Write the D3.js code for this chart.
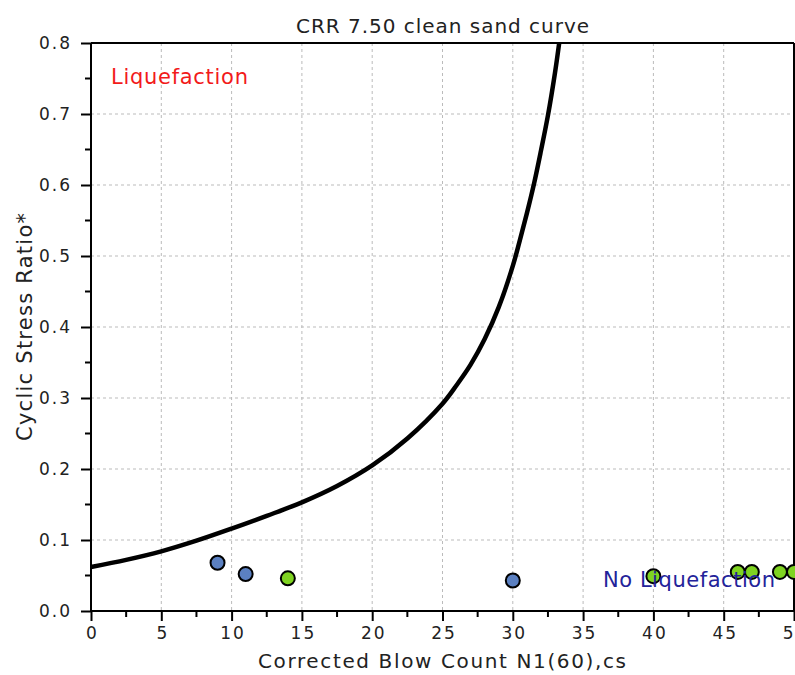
<!DOCTYPE html>
<html><head><meta charset="utf-8">
<script src="https://cdn.jsdelivr.net/npm/d3@7"></script>
<style>body{margin:0;background:#fff}svg{display:block}text{font-family:"DejaVu Sans",Verdana,sans-serif}</style>
</head><body>
<svg id="c" width="795" height="675"></svg>
<script>
// Data
const curveN   = [0, 2.5, 5, 7.5, 10, 12.5, 15, 17.5, 20, 22.5, 25, 26, 27, 28, 29, 30, 30.5, 31, 31.5, 32, 32.5, 33, 33.3];
const curveCRR = [0.062, 0.072, 0.084, 0.099, 0.116, 0.134, 0.153, 0.176, 0.205, 0.243, 0.292, 0.318, 0.347, 0.383, 0.428, 0.486, 0.522, 0.560, 0.601, 0.648, 0.698, 0.758, 0.800];
const blueN   = [9, 11, 30];
const blueCSR = [0.068, 0.052, 0.043];
const greenN   = [14, 40, 46, 47, 49, 50];
const greenCSR = [0.046, 0.049, 0.055, 0.055, 0.055, 0.055];
const xTicks = [0, 5, 10, 15, 20, 25, 30, 35, 40, 45, 50];
const yTicks = [0.0, 0.1, 0.2, 0.3, 0.4, 0.5, 0.6, 0.7, 0.8];
const titleText = "CRR 7.50 clean sand curve";
const xTitle = "Corrected Blow Count N1(60),cs";
const yTitle = "Cyclic Stress Ratio*";

const svg = d3.select("#c");
const L = 91, R = 794, T = 43, B = 611;
const x = d3.scaleLinear().domain([0, 50]).range([L, R]);
const y = d3.scaleLinear().domain([0, 0.8]).range([B, T]);

// grid
const g = svg.append("g");
g.selectAll(".gx").data(xTicks.slice(1, -1)).join("line")
  .attr("x1", d => x(d)).attr("x2", d => x(d)).attr("y1", T).attr("y2", B)
  .attr("stroke", "#bbb").attr("stroke-width", 1).attr("stroke-dasharray", "3,3");
g.selectAll(".gy").data(yTicks.slice(1, -1)).join("line")
  .attr("y1", d => y(d)).attr("y2", d => y(d)).attr("x1", L).attr("x2", R)
  .attr("stroke", "#bbb").attr("stroke-width", 1).attr("stroke-dasharray", "3,3");

// frame top/right
svg.append("line").attr("x1", L).attr("x2", R).attr("y1", T).attr("y2", T).attr("stroke", "#000").attr("stroke-width", 2);
svg.append("line").attr("x1", R).attr("x2", R).attr("y1", T).attr("y2", B).attr("stroke", "#000").attr("stroke-width", 2);

// axes
const xAxis = d3.axisBottom(x).tickValues(xTicks).tickSize(10).tickFormat(d3.format("d"));
const xa = svg.append("g").attr("transform", `translate(0,${B})`).call(xAxis);
const yAxis = d3.axisLeft(y).tickValues(yTicks).tickSize(10).tickFormat(d3.format(".1f"));
const ya = svg.append("g").attr("transform", `translate(${L},0)`).call(yAxis);
[xa, ya].forEach(a => {
  a.select(".domain").attr("stroke", "#000").attr("stroke-width", 2);
  a.selectAll(".tick line").attr("stroke", "#000").attr("stroke-width", 2);
  a.selectAll(".tick text").attr("fill", "#222").style("font-size", "17px").style("letter-spacing", "2px")
    .style("font-family", '"DejaVu Sans",Verdana,sans-serif');
});
xa.select(".domain").attr("d", `M${L},0H${R}`);
ya.select(".domain").attr("d", `M0,${B}V${T}`);
xa.selectAll(".tick text").attr("y", 16).attr("dx", "1px");
ya.selectAll(".tick text").attr("x", -19);

// minor ticks
const xMinor = d3.range(2.5, 50, 5);
svg.append("g").selectAll("line").data(xMinor).join("line")
  .attr("x1", d => x(d)).attr("x2", d => x(d)).attr("y1", B).attr("y2", B + 6)
  .attr("stroke", "#000").attr("stroke-width", 2);
const yMinor = d3.range(0.05, 0.8, 0.1);
svg.append("g").selectAll("line").data(yMinor).join("line")
  .attr("y1", d => y(d)).attr("y2", d => y(d)).attr("x1", L - 6).attr("x2", L)
  .attr("stroke", "#000").attr("stroke-width", 2);

// curve
const pts = curveN.map((n, i) => [n, curveCRR[i]]);
svg.append("path").datum(pts)
  .attr("d", d3.line().x(d => x(d[0])).y(d => y(d[1])).curve(d3.curveCatmullRom.alpha(0.5)))
  .attr("fill", "none").attr("stroke", "#000").attr("stroke-width", 4.5).attr("stroke-linejoin", "round");

// points
function dots(ns, vs, fill) {
  svg.append("g").selectAll("circle").data(ns.map((n, i) => [n, vs[i]])).join("circle")
    .attr("cx", d => x(d[0])).attr("cy", d => y(d[1])).attr("r", 7)
    .attr("fill", fill).attr("stroke", "#000").attr("stroke-width", 2);
}
dots(blueN, blueCSR, "#5b80c1");
dots(greenN, greenCSR, "#7fd321");

// labels
svg.append("text").attr("x", 111).attr("y", 84).attr("fill", "#f21a1a")
  .style("font-size", "21px").attr("textLength", 137).attr("lengthAdjust", "spacing").text("Liquefaction");
svg.append("text").attr("x", 603).attr("y", 587).attr("fill", "#23239a")
  .style("font-size", "21px").attr("textLength", 172).attr("lengthAdjust", "spacing").text("No Liquefaction");

// titles
svg.append("text").attr("x", 296).attr("y", 33).attr("fill", "#222")
  .style("font-size", "20px").attr("textLength", 293).attr("lengthAdjust", "spacing").text(titleText);
svg.append("text").attr("x", 258).attr("y", 668).attr("fill", "#222")
  .style("font-size", "20px").attr("textLength", 368).attr("lengthAdjust", "spacing").text(xTitle);
svg.append("text").attr("transform", "translate(32,441) rotate(-90)").attr("fill", "#222")
  .style("font-size", "21px").attr("textLength", 228).attr("lengthAdjust", "spacing").text(yTitle);
</script>
</body></html>
